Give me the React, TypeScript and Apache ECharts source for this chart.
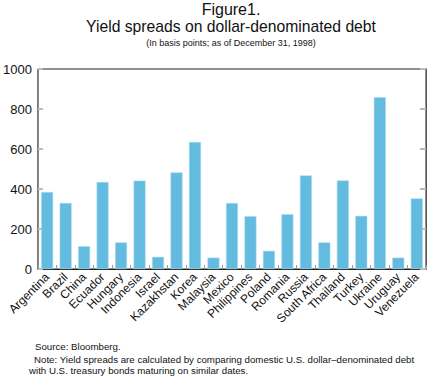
import React, { useEffect, useRef } from "react";
import * as echarts from "echarts";

const countries = [
  "Argentina", "Brazil", "China", "Ecuador", "Hungary", "Indonesia", "Israel",
  "Kazakhstan", "Korea", "Malaysia", "Mexico", "Philippines", "Poland", "Romania",
  "Russia", "South Africa", "Thailand", "Turkey", "Ukraine", "Uruguay", "Venezuela",
];
const spreads = [385, 330, 114, 435, 133, 442, 61, 483, 635, 57, 330, 264, 91, 274, 468, 133, 443, 266, 859, 57, 353];
const yTicks = [0, 200, 400, 600, 800, 1000];

const titleLine1 = "Figure1.";
const titleLine2 = "Yield spreads on dollar-denominated debt";
const subtitle = "(In basis points; as of December 31, 1998)";
const source = "Source: Bloomberg.";
const note1 = "Note: Yield spreads are calculated by comparing domestic U.S. dollar\u2013denominated debt";
const note2 = "with U.S. treasury bonds maturing on similar dates.";

const FONT = "Liberation Sans, Arial, Helvetica, sans-serif";

export default function App() {
  const ref = useRef<HTMLDivElement>(null);
  useEffect(() => {
    if (!ref.current) return;
    const chart = echarts.init(ref.current, null, { renderer: "svg" });
    chart.setOption({
      animation: false,
      backgroundColor: "#ffffff",
      textStyle: { fontFamily: FONT },
      grid: {
        left: 34, right: 4, top: 69, bottom: 107,
        show: true, borderColor: "#222", borderWidth: 1,
      },
      graphic: [
        { type: "text", x: 231, y: 1, style: { text: titleLine1, font: `16px ${FONT}`, fill: "#111", textAlign: "center" } },
        { type: "text", x: 231, y: 18, style: { text: titleLine2, font: `15.7px ${FONT}`, fill: "#111", textAlign: "center" } },
        { type: "text", x: 231, y: 38, style: { text: subtitle, font: `9px ${FONT}`, fill: "#111", textAlign: "center" } },
        { type: "text", x: 35, y: 341, style: { text: source, font: `9.7px ${FONT}`, fill: "#111" } },
        { type: "text", x: 34, y: 354, style: { text: note1, font: `9.7px ${FONT}`, fill: "#111" } },
        { type: "text", x: 29, y: 365, style: { text: note2, font: `9.7px ${FONT}`, fill: "#111" } },
      ],
      xAxis: {
        type: "category",
        data: countries,
        axisLine: { show: true, lineStyle: { color: "#222", width: 1 } },
        axisTick: { show: true, inside: true, length: 4, lineStyle: { color: "#999" } },
        axisLabel: { rotate: 45, interval: 0, fontSize: 12, color: "#111", margin: 6, fontFamily: FONT },
      },
      yAxis: [
        {
          type: "value", min: yTicks[0], max: yTicks[yTicks.length - 1], interval: 200,
          axisLine: { show: true, lineStyle: { color: "#888" } },
          axisTick: { show: true, inside: true, length: 5, lineStyle: { color: "#bbb", width: 2 } },
          axisLabel: { fontSize: 13, color: "#111", margin: 6, fontFamily: FONT, formatter: (v: number) => String(v) },
          splitLine: { show: false },
        },
        {
          type: "value", position: "right", min: yTicks[0], max: yTicks[yTicks.length - 1], interval: 200,
          axisLine: { show: true, lineStyle: { color: "#555" } },
          axisTick: { show: true, inside: true, length: 6, lineStyle: { color: "#bbb", width: 2 } },
          axisLabel: { show: false },
          splitLine: { show: false },
        },
      ],
      series: [
        {
          type: "bar",
          data: spreads,
          barWidth: 12,
          itemStyle: { color: "#63bbdf", borderColor: "#a9dcef", borderWidth: 0.6 },
        },
      ],
    });
    return () => chart.dispose();
  }, []);
  return <div ref={ref} style={{ width: 430, height: 376, position: "absolute", left: 0, top: 0 }} />;
}
